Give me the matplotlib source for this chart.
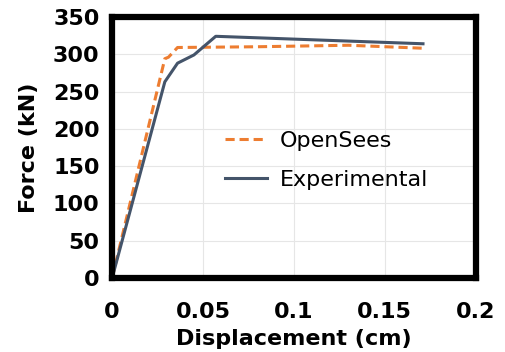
import matplotlib
matplotlib.use("Agg")
import matplotlib.pyplot as plt

# OpenSees model curve
os_disp = [0.0, 0.029, 0.031, 0.036, 0.08, 0.13, 0.171]
os_force = [0.0, 294, 296, 309, 310, 312, 308]

# experimental curve
ex_disp = [0.0, 0.029, 0.036, 0.045, 0.057, 0.171]
ex_force = [0.0, 263, 288, 299, 324, 314]

xticks = [0, 0.05, 0.1, 0.15, 0.2]
xlabels = ['0', '0.05', '0.1', '0.15', '0.2']
yticks = [0, 50, 100, 150, 200, 250, 300, 350]

fig = plt.figure(figsize=(5.05, 3.52), dpi=100)
ax = fig.add_axes([0.222, 0.21, 0.72, 0.742])

ax.plot(os_disp, os_force, color='#ED7D31', lw=2.2, ls=(0, (3, 1.6)), label='OpenSees')
ax.plot(ex_disp, ex_force, color='#44546A', lw=2.2, label='Experimental')

ax.set_xlim(0, 0.2)
ax.set_ylim(0, 350)
ax.set_xticks(xticks)
ax.set_xticklabels(xlabels)
ax.set_yticks(yticks)
ax.grid(True, color='#E6E6E6', lw=0.8)
ax.set_axisbelow(True)

for s in ax.spines.values():
    s.set_linewidth(4.5)
    s.set_color('black')
ax.tick_params(length=0, labelsize=16)
ax.tick_params(axis='y', pad=9)
ax.tick_params(axis='x', pad=17)
for lab in ax.get_xticklabels() + ax.get_yticklabels():
    lab.set_fontweight('bold')

ax.set_xlabel('Displacement (cm)', fontsize=16, fontweight='bold', labelpad=5)
ax.set_ylabel('Force (kN)', fontsize=16, fontweight='bold', labelpad=10)

ax.legend(loc='center', bbox_to_anchor=(0.59, 0.45), frameon=False, fontsize=16,
          handlelength=1.9, handletextpad=0.6, labelspacing=0.85)

fig.savefig('out.png', dpi=100)
